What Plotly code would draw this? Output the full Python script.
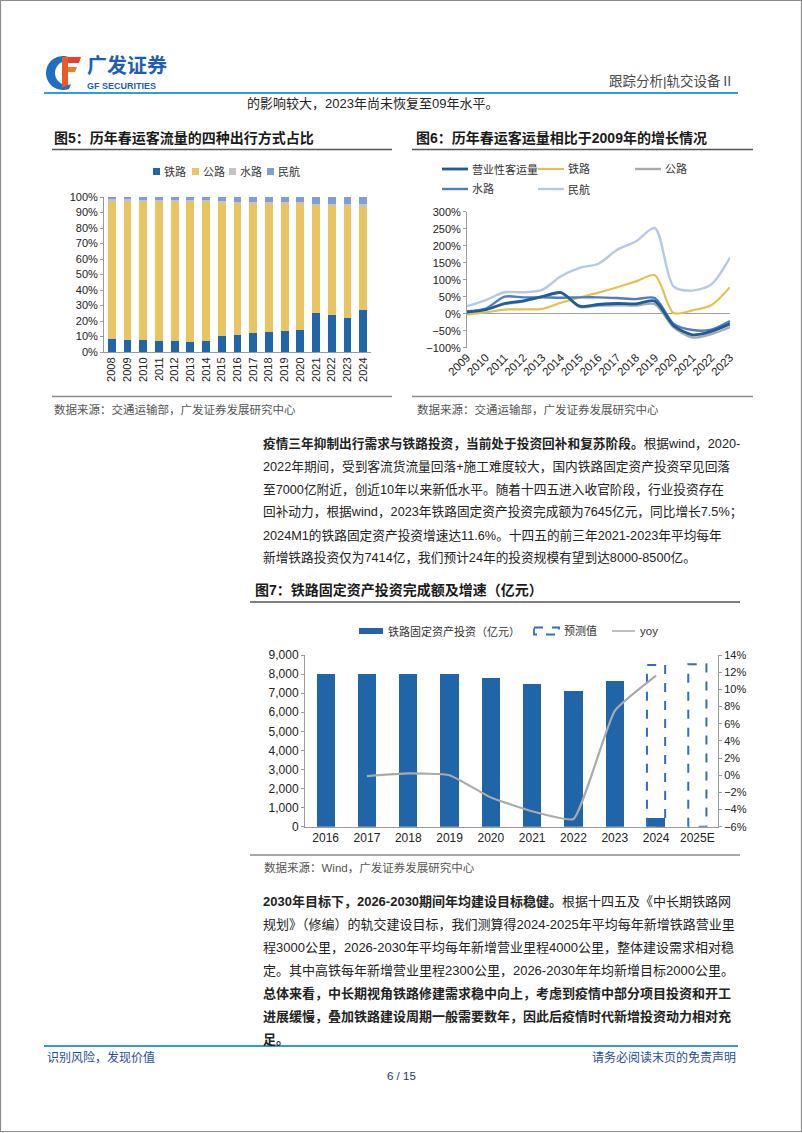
import numpy as np
import plotly.graph_objects as go

W, H = 802, 1133
def X(px): return px / W
def Y(py): return 1 - py / H

# ---------------- Data: Figure 5 (share of four travel modes, %) ----------------
years5 = ['2008', '2009', '2010', '2011', '2012', '2013', '2014', '2015', '2016',
          '2017', '2018', '2019', '2020', '2021', '2022', '2023', '2024']
rail5 = [8.5, 8.0, 7.8, 7.2, 7.0, 6.5, 7.2, 10.2, 11.0, 12.0, 12.8, 13.5, 14.5, 25.3, 24.0, 22.0, 27.0]
road5 = [88.8, 89.3, 89.4, 90.0, 90.1, 90.6, 89.8, 86.2, 85.3, 84.1, 83.2, 82.4, 81.4, 69.2, 70.7, 72.7, 67.0]
water5 = [1.2, 1.1, 1.1, 1.0, 1.0, 0.9, 0.9, 0.8, 0.8, 0.8, 0.8, 0.8, 0.8, 1.2, 1.0, 1.0, 1.2]
air5 = [1.5, 1.6, 1.7, 1.8, 1.9, 2.0, 2.1, 2.8, 2.9, 3.1, 3.2, 3.3, 3.3, 4.3, 4.3, 4.3, 4.8]
names5 = ['铁路', '公路', '水路', '民航']

# ---------------- Data: Figure 6 (growth vs 2009, %) ----------------
years6 = ['2009', '2010', '2011', '2012', '2013', '2014', '2015', '2016',
          '2017', '2018', '2019', '2020', '2021', '2022', '2023']
total6 = [5, 12, 30, 38, 50, 62, 22, 27, 30, 29, 37, -35, -62, -52, -30]
rail6 = [-2, 4, 12, 13, 14, 32, 48, 62, 78, 95, 113, 2, 10, 25, 78]
road6 = [5, 12, 28, 36, 50, 62, 20, 24, 25, 24, 28, -40, -70, -60, -40]
water6 = [7, 15, 50, 48, 48, 47, 48, 48, 46, 43, 46, -30, -48, -47, -22]
air6 = [22, 40, 63, 63, 70, 110, 135, 147, 188, 213, 252, 80, 68, 86, 165]
names6 = ['营业性客运量', '铁路', '公路', '水路', '民航']

# ---------------- Data: Figure 7 (rail FAI, 100m yuan; yoy %) ----------------
years7 = ['2016', '2017', '2018', '2019', '2020', '2021', '2022', '2023', '2024', '2025E']
invest7 = [8015, 8010, 8028, 8029, 7819, 7489, 7109, 7645, 450, None]
forecast7 = [None, None, None, None, None, None, None, None, 8480, 8520]
yoy7 = [None, -0.1, 0.2, 0.0, -2.6, -4.2, -5.1, 7.5, 11.6, None]
names7 = ['铁路固定资产投资（亿元）', '预测值', 'yoy']

# ---------------- Styles ----------------
FONT = "Liberation Sans, Noto Sans CJK SC, sans-serif"
CJK = "Noto Sans CJK SC, sans-serif"
C_RAIL = '#1f65a8'
C_ROAD = '#e8c462'
C_WATER = '#c3c3c3'
C_AIR = '#7f9fd2'
C6 = ['#1f5c9c', '#e6c04e', '#a9a9a9', '#4f7dbf', '#b7c8e6']
C_BLUE_LINE = '#2f9ed6'
AX = '#9a9a9a'

fig = go.Figure()

# ---- Figure 5 bars ----
for vals, nm, col in zip([rail5, road5, water5, air5], names5, [C_RAIL, C_ROAD, C_WATER, C_AIR]):
    fig.add_trace(go.Bar(x=years5, y=vals, name=nm, marker_color=col, width=0.5,
                         marker_line_width=0, xaxis='x', yaxis='y', showlegend=False))

# ---- Figure 6 lines (drawn back to front) ----
order = [4, 1, 3, 2, 0]
series6 = [total6, rail6, road6, water6, air6]
widths6 = [2.8, 2.2, 2.4, 2.4, 2.4]
for i in order:
    fig.add_trace(go.Scatter(x=years6, y=series6[i], name=names6[i], mode='lines',
                             line=dict(color=C6[i], width=widths6[i], shape='spline', smoothing=0.8),
                             xaxis='x2', yaxis='y2', showlegend=False))

# ---- Figure 7 bars, forecast boxes, yoy ----
idx7 = list(range(len(years7)))
fig.add_trace(go.Bar(x=idx7, y=invest7, name=names7[0], marker_color=C_RAIL, width=0.44,
                     marker_line_width=0, xaxis='x3', yaxis='y3', showlegend=False))
hw = 0.22
for i, v in zip(idx7, forecast7):
    if v is None:
        continue
    fig.add_trace(go.Scatter(x=[i - hw, i - hw, i + hw, i + hw, i - hw], y=[0, v, v, 0, 0],
                             mode='lines', line=dict(color='#2f6fbf', width=2, dash='dash'),
                             name=names7[1], xaxis='x3', yaxis='y3', showlegend=False))
fig.add_trace(go.Scatter(x=idx7, y=yoy7, name=names7[2], mode='lines',
                         line=dict(color='#aaaaaa', width=2.2, shape='spline', smoothing=0.4),
                         connectgaps=False, xaxis='x3', yaxis='y4', showlegend=False))

tick11 = dict(family=FONT, size=11, color='#222')
tick12 = dict(family=FONT, size=12, color='#222')

fig.update_layout(
    width=W, height=H, autosize=False,
    margin=dict(l=0, r=0, t=0, b=0, pad=0, autoexpand=False),
    paper_bgcolor='white', plot_bgcolor='rgba(0,0,0,0)',
    barmode='stack', showlegend=False,
    font=dict(family=FONT, color='#222'),
    # Figure 5
    xaxis=dict(domain=[X(104), X(371)], type='category', tickangle=-90, tickfont=tick11,
               showline=True, linecolor=AX, linewidth=1, ticks='', showgrid=False,
               anchor='y', automargin=False),
    yaxis=dict(domain=[Y(352), Y(197)], range=[0, 100], dtick=10, ticksuffix='%',
               tickfont=tick11, showline=True, linecolor=AX, linewidth=1, ticks='outside',
               ticklen=3, tickcolor=AX, showgrid=False, zeroline=False, anchor='x',
               automargin=False),
    # Figure 6
    xaxis2=dict(domain=[X(467), X(730)], type='category', tickangle=-45,
                tickfont=dict(family=FONT, size=11.5, color='#222'),
                showline=False, ticks='', showgrid=False, anchor='y2', automargin=False),
    yaxis2=dict(domain=[Y(347.7), Y(211.7)], range=[-100, 300], dtick=50, ticksuffix='%',
                tickfont=tick11, showline=True, linecolor=AX, linewidth=1, ticks='outside',
                ticklen=3, tickcolor=AX, showgrid=False, zeroline=True, zerolinecolor='#a0a0a0',
                zerolinewidth=1.2, anchor='x2', automargin=False),
    # Figure 7
    xaxis3=dict(domain=[X(305), X(718)], range=[-0.5, 9.5], tickvals=idx7, ticktext=years7,
                tickfont=tick12, showline=True, linecolor=AX, linewidth=1, ticks='',
                showgrid=False, zeroline=False, anchor='y3', automargin=False),
    yaxis3=dict(domain=[Y(826.7), Y(655)], range=[0, 9000], dtick=1000, tickformat=',',
                tickfont=tick12, showline=True, linecolor=AX, linewidth=1, ticks='outside',
                ticklen=3, tickcolor=AX, showgrid=False, zeroline=False, anchor='x3',
                automargin=False),
    yaxis4=dict(range=[-6, 14], dtick=2, ticksuffix='%', tickfont=dict(family=FONT, size=11, color='#222'),
                overlaying='y3', side='right', anchor='x3', showline=True, linecolor=AX,
                linewidth=1, ticks='outside', ticklen=3, tickcolor=AX, showgrid=False,
                zeroline=False, automargin=False),
)

ann = []
shapes = []

def txt(x, y, s, size=13, color='#222', anchor='left', family=FONT):
    ann.append(dict(x=X(x), y=Y(y), xref='paper', yref='paper', text=s, showarrow=False,
                    xanchor=anchor, yanchor='middle', align=anchor,
                    font=dict(family=family, size=size, color=color)))

def hline(x0, x1, y, color, width):
    shapes.append(dict(type='line', xref='paper', yref='paper', x0=X(x0), x1=X(x1),
                       y0=Y(y), y1=Y(y), line=dict(color=color, width=width)))

def rect(x0, y0, x1, y1, fill=None, line=None, dash=None, lw=0):
    d = dict(type='rect', xref='paper', yref='paper', x0=X(x0), x1=X(x1), y0=Y(y0), y1=Y(y1))
    d['fillcolor'] = fill if fill else 'rgba(0,0,0,0)'
    d['line'] = dict(color=line if line else 'rgba(0,0,0,0)', width=lw, dash=dash if dash else 'solid')
    shapes.append(d)

def path(pts, fill):
    s = 'M ' + ' L '.join(f'{X(a):.5f},{Y(b):.5f}' for a, b in pts) + ' Z'
    shapes.append(dict(type='path', xref='paper', yref='paper', path=s,
                       fillcolor=fill, line=dict(width=0)))

# ---- page border ----
shapes.append(dict(type='rect', xref='paper', yref='paper', x0=X(0.5), x1=X(801.5),
                   y0=Y(1131.5), y1=Y(0.5), line=dict(color='#8c8c8c', width=1.2)))

# ---- logo ----
ang = np.linspace(np.radians(75), np.radians(290), 40)
outer = [(63 + 17 * np.cos(a), 73 - 17 * np.sin(a)) for a in ang]
inner = [(67 + 12 * np.cos(a), 73 - 12 * np.sin(a)) for a in ang[::-1]]
path(outer + inner, '#1f6fc0')
path([(62, 57), (81, 57), (79, 63), (62, 63)], '#e8402a')
path([(62, 67), (77, 67), (75, 72), (62, 72)], '#f07b26')
path([(62, 57), (68, 57), (68, 85), (62, 88)], '#e85a2a')
txt(85, 65, '<b>广发证券</b>', size=20, color='#1d5fae', family=CJK)
txt(85, 86, '<b>GF SECURITIES</b>', size=9, color='#1d5fae')
txt(736, 81, '跟踪分析|轨交设备Ⅱ', size=13.5, color='#4a4a4a', anchor='right')
hline(44, 738, 93, C_BLUE_LINE, 2)
txt(245, 103, '的影响较大，2023年尚未恢复至09年水平。', size=13, color='#222')

# ---- Figure 5 frame ----
txt(52, 138, '<b>图5：历年春运客流量的四种出行方式占比</b>', size=14, color='#1a1a1a')
hline(52, 392, 149.5, '#555555', 1.5)
leg5x = [153, 192, 229, 267]
for lx, nm, col in zip(leg5x, names5, [C_RAIL, C_ROAD, C_WATER, C_AIR]):
    rect(lx, 168, lx + 7, 175, fill=col)
    txt(lx + 9, 171.5, nm, size=11, color='#333')
hline(52, 392, 396.5, '#8a8a8a', 1.5)
txt(52, 409, '数据来源：交通运输部，广发证券发展研究中心', size=11.5, color='#555')

# ---- Figure 6 frame ----
txt(414, 138, '<b>图6：历年春运客运量相比于2009年的增长情况</b>', size=14, color='#1a1a1a')
hline(412, 753, 149.5, '#555555', 1.5)
leg6 = [(442, 169, 0), (538, 169, 1), (635, 169, 2), (442, 189, 3), (538, 189, 4)]
for lx, ly, i in leg6:
    shapes.append(dict(type='line', xref='paper', yref='paper', x0=X(lx), x1=X(lx + 26),
                       y0=Y(ly), y1=Y(ly), line=dict(color=C6[i], width=widths6[i])))
    txt(lx + 28, ly, names6[i], size=11, color='#333')
hline(412, 753, 396.5, '#8a8a8a', 1.5)
txt(415, 409, '数据来源：交通运输部，广发证券发展研究中心', size=11.5, color='#555')

# ---- paragraph 1 ----
p1 = [
    '<b>疫情三年抑制出行需求与铁路投资，当前处于投资回补和复苏阶段。</b>根据wind，2020-',
    '2022年期间，受到客流货流量回落+施工难度较大，国内铁路固定资产投资罕见回落',
    '至7000亿附近，创近10年以来新低水平。随着十四五进入收官阶段，行业投资存在',
    '回补动力，根据wind，2023年铁路固定资产投资完成额为7645亿元，同比增长7.5%；',
    '2024M1的铁路固定资产投资增速达11.6%。十四五的前三年2021-2023年平均每年',
    '新增铁路投资仅为7414亿，我们预计24年的投资规模有望到达8000-8500亿。',
]
for k, line in enumerate(p1):
    txt(261, 443 + 23 * k, line, size=12.7, color='#222')

# ---- Figure 7 frame ----
txt(253, 590, '<b>图7：铁路固定资产投资完成额及增速（亿元）</b>', size=14, color='#1a1a1a')
hline(250, 740, 602, '#555555', 1.5)
rect(359, 628, 383, 634, fill=C_RAIL)
txt(386, 631, names7[0], size=11, color='#333')
rect(534, 627.5, 559, 634.5, line='#2f6fbf', dash='dash', lw=1.8)
txt(562, 631, names7[1], size=11, color='#333')
hline(612, 635, 631, '#aaaaaa', 1.5)
txt(638, 631, names7[2], size=11.5, color='#333')
hline(250, 740, 855, '#8a8a8a', 1.5)
txt(262, 867, '数据来源：Wind，广发证券发展研究中心', size=11.5, color='#555')

# ---- paragraph 2 ----
p2 = [
    '<b>2030年目标下，2026-2030期间年均建设目标稳健。</b>根据十四五及《中长期铁路网',
    '规划》（修编）的轨交建设目标，我们测算得2024-2025年平均每年新增铁路营业里',
    '程3000公里，2026-2030年平均每年新增营业里程4000公里，整体建设需求相对稳',
    '定。其中高铁每年新增营业里程2300公里，2026-2030年年均新增目标2000公里。',
    '<b>总体来看，中长期视角铁路修建需求稳中向上，考虑到疫情中部分项目投资和开工</b>',
    '<b>进展缓慢，叠加铁路建设周期一般需要数年，因此后疫情时代新增投资动力相对充</b>',
    '<b>足。</b>',
]
for k, line in enumerate(p2):
    txt(261, 901 + 23 * k, line, size=13, color='#222')

# ---- footer ----
hline(44, 738, 1046, C_BLUE_LINE, 2)
txt(45, 1057, '识别风险，发现价值', size=12, color='#1f4e9a')
txt(738, 1057, '请务必阅读末页的免责声明', size=12, color='#1f4e9a', anchor='right')
txt(401, 1076, '6 / 15', size=11.5, color='#1f3864', anchor='center')

fig.update_layout(annotations=ann, shapes=shapes)
fig.write_html('out.html', config={'displayModeBar': False},
               post_script="document.body.style.margin='0px';document.body.style.padding='0px';")
